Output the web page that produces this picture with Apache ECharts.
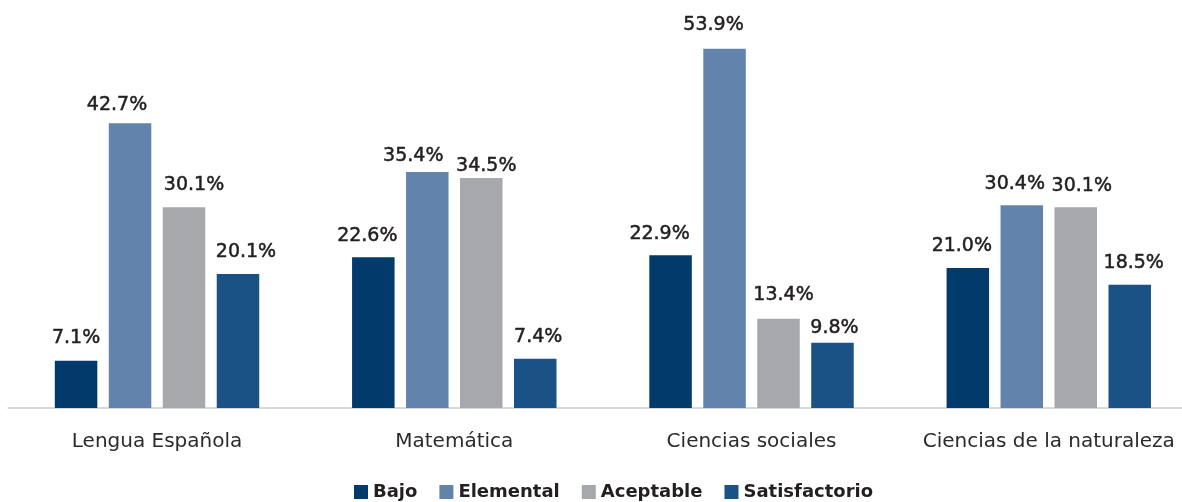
<!DOCTYPE html>
<html><head><meta charset="utf-8">
<script src="https://cdn.jsdelivr.net/npm/echarts@6/dist/echarts.min.js"></script>
<style>html,body{margin:0;padding:0;background:#fff;overflow:hidden;width:1182px;height:502px}#c{width:1200px;height:502px}</style>
</head><body><div id="c"></div>
<script>
const categories = ["Lengua Española", "Matemática", "Ciencias sociales", "Ciencias de la naturaleza"];
const seriesNames = ["Bajo", "Elemental", "Aceptable", "Satisfactorio"];
const bajo = [7.1, 22.6, 22.9, 21.0];
const elemental = [42.7, 35.4, 53.9, 30.4];
const aceptable = [30.1, 34.5, 13.4, 30.1];
const satisfactorio = [20.1, 7.4, 9.8, 18.5];
const colors = ["#003b6c", "#6283ac", "#a7a8ac", "#1a5285"];
// label nudges [dx, dy] in px, per series then per category (as in the reference)
const labelNudge = [
  [[0, -1], [-6, 0], [-11, 0], [-6, 0]],
  [[-13, 3], [-14, 6], [-11, -2], [-7, 0]],
  [[10, -1], [5, 10], [5, -2], [6, 0]],
  [[8, 0], [3, 0], [2, 7], [4, 0]]
];
const values = [bajo, elemental, aceptable, satisfactorio];
const FONT = "DejaVu Sans";
const chart = echarts.init(document.getElementById('c'));
chart.setOption({
  animation: false,
  textStyle: {fontFamily: FONT},
  grid: {left: 8.4, right: 2.6, top: 8, bottom: 94, containLabel: false},
  legend: {
    top: 478, left: 349,
    itemWidth: 14, itemHeight: 14, itemGap: 22,
    icon: 'rect',
    textStyle: {fontFamily: FONT, fontSize: 18, fontWeight: 'bold', color: '#231f20'},
    data: seriesNames
  },
  xAxis: {
    type: 'category', data: categories,
    axisLine: {lineStyle: {color: '#d9d9d9', width: 2}},
    axisTick: {show: false},
    axisLabel: {interval: 0, fontFamily: FONT, fontSize: 20, color: '#2b2b2b', margin: 24}
  },
  yAxis: {type: 'value', min: 0, max: 60, show: false, splitLine: {show: false}},
  series: seriesNames.map((n, i) => ({
    name: n, type: 'bar',
    data: values[i].map((v, j) => ({value: v, label: {offset: labelNudge[i][j]}})),
    barWidth: 42.5, barGap: '27%',
    itemStyle: {color: colors[i]},
    label: {show: true, position: 'top', distance: 12,
      formatter: p => p.value.toFixed(1) + '%',
      fontFamily: FONT, fontSize: 19, color: '#231f20',
      textBorderColor: '#231f20', textBorderWidth: 0.5}
  }))
});
</script></body></html>
